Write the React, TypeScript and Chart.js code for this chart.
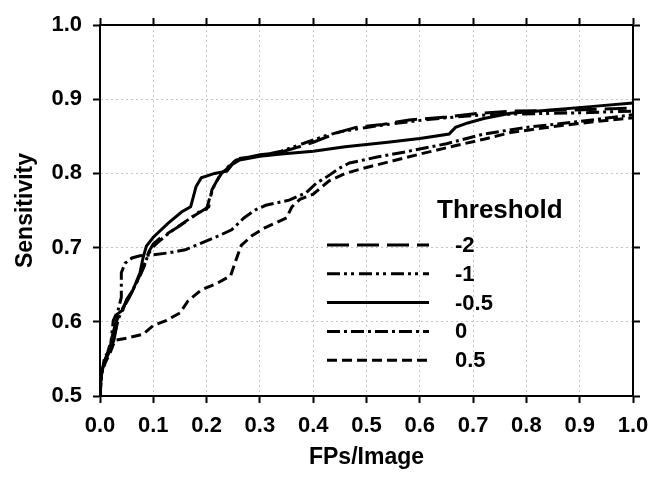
import React, { useEffect, useRef } from "react";
import { Chart, registerables } from "chart.js";

Chart.register(...registerables);

// Threshold labels
const thresholds = ["-2", "-1", "-0.5", "0", "0.5"];

// Threshold -2 (long dashes)
const fpsM2 = [0, 0.002, 0.008, 0.015, 0.022, 0.03, 0.04, 0.05, 0.06, 0.07, 0.078, 0.085, 0.092, 0.1, 0.115, 0.147, 0.179, 0.204, 0.21, 0.223, 0.236, 0.255, 0.28, 0.3, 0.336, 0.37, 0.4, 0.45, 0.48, 0.53, 0.58, 0.65, 0.71, 0.78, 0.85, 0.92, 1.0];
const sensM2 = [0.5, 0.525, 0.545, 0.56, 0.578, 0.6, 0.615, 0.628, 0.64, 0.655, 0.668, 0.68, 0.695, 0.705, 0.714, 0.728, 0.744, 0.755, 0.778, 0.795, 0.805, 0.818, 0.822, 0.825, 0.828, 0.835, 0.842, 0.856, 0.862, 0.866, 0.872, 0.876, 0.881, 0.884, 0.885, 0.886, 0.888];

// Threshold -1 (dash-dot-dot)
const fpsM1 = [0, 0.003, 0.01, 0.02, 0.028, 0.035, 0.045, 0.055, 0.065, 0.075, 0.083, 0.09, 0.098, 0.11, 0.13, 0.16, 0.19, 0.2, 0.205, 0.215, 0.228, 0.245, 0.26, 0.3, 0.34, 0.38, 0.42, 0.45, 0.5, 0.56, 0.62, 0.7, 0.78, 0.85, 0.92, 1.0];
const sensM1 = [0.5, 0.53, 0.55, 0.565, 0.585, 0.605, 0.62, 0.633, 0.648, 0.662, 0.675, 0.69, 0.7, 0.708, 0.72, 0.735, 0.75, 0.752, 0.765, 0.785, 0.8, 0.812, 0.82, 0.824, 0.83, 0.84, 0.85, 0.856, 0.862, 0.868, 0.873, 0.878, 0.88, 0.881, 0.882, 0.884];

// Threshold -0.5 (solid)
const fpsM05 = [0, 0.001, 0.004, 0.01, 0.018, 0.026, 0.03, 0.032, 0.043, 0.05, 0.062, 0.075, 0.081, 0.087, 0.1, 0.128, 0.153, 0.17, 0.175, 0.18, 0.19, 0.215, 0.238, 0.248, 0.262, 0.3, 0.34, 0.4, 0.46, 0.54, 0.6, 0.655, 0.667, 0.69, 0.72, 0.77, 0.84, 0.92, 1.0];
const sensM05 = [0.5, 0.52, 0.535, 0.548, 0.56, 0.575, 0.59, 0.61, 0.616, 0.63, 0.643, 0.666, 0.687, 0.702, 0.714, 0.733, 0.748, 0.755, 0.768, 0.782, 0.794, 0.8, 0.803, 0.812, 0.818, 0.823, 0.826, 0.83, 0.836, 0.842, 0.847, 0.853, 0.862, 0.868, 0.874, 0.881, 0.885, 0.89, 0.895];

// Threshold 0 (dash-dot)
const fps0 = [0, 0.002, 0.009, 0.019, 0.025, 0.034, 0.04, 0.04, 0.047, 0.06, 0.075, 0.095, 0.13, 0.16, 0.19, 0.22, 0.247, 0.27, 0.292, 0.311, 0.355, 0.387, 0.406, 0.425, 0.449, 0.468, 0.52, 0.58, 0.65, 0.72, 0.8, 0.9, 1.0];
const sens0 = [0.5, 0.526, 0.553, 0.562, 0.602, 0.616, 0.633, 0.666, 0.679, 0.686, 0.689, 0.69, 0.693, 0.697, 0.706, 0.715, 0.724, 0.74, 0.751, 0.757, 0.764, 0.774, 0.787, 0.795, 0.807, 0.814, 0.822, 0.83, 0.84, 0.853, 0.862, 0.87, 0.879];

// Threshold 0.5 (short dashes)
const fps05 = [0, 0.003, 0.01, 0.02, 0.028, 0.05, 0.08, 0.1, 0.125, 0.15, 0.165, 0.19, 0.22, 0.245, 0.255, 0.265, 0.285, 0.31, 0.35, 0.36, 0.375, 0.4, 0.43, 0.46, 0.5, 0.55, 0.6, 0.67, 0.72, 0.77, 0.85, 0.93, 1.0];
const sens05 = [0.5, 0.53, 0.545, 0.56, 0.575, 0.578, 0.583, 0.595, 0.602, 0.612, 0.628, 0.643, 0.652, 0.662, 0.683, 0.703, 0.716, 0.727, 0.74, 0.755, 0.765, 0.772, 0.79, 0.8, 0.808, 0.817, 0.826, 0.838, 0.846, 0.855, 0.863, 0.87, 0.875];

const seriesX = [fpsM2, fpsM1, fpsM05, fps0, fps05];
const seriesY = [sensM2, sensM1, sensM05, sens0, sens05];
const dashes: number[][] = [[22, 8], [13, 4, 3, 4, 3, 5], [], [13, 4, 3, 4], [10, 5]];

const FONT = "'Liberation Sans', Arial, Helvetica, sans-serif";

const legendPlugin = {
  id: "thresholdLegend",
  afterDatasetsDraw(chart: any) {
    const { ctx } = chart;
    ctx.save();
    ctx.fillStyle = "#000";
    ctx.textBaseline = "middle";
    ctx.textAlign = "left";
    ctx.font = `bold 26px ${FONT}`;
    ctx.fillText("Threshold", 437, 211);
    ctx.font = `bold 22px ${FONT}`;
    chart.data.datasets.forEach((ds: any, i: number) => {
      const y = 245 + i * 28.8;
      ctx.strokeStyle = "#000";
      ctx.lineWidth = 3;
      ctx.setLineDash(ds.borderDash || []);
      ctx.beginPath();
      ctx.moveTo(327, y);
      ctx.lineTo(429, y);
      ctx.stroke();
      ctx.setLineDash([]);
      ctx.fillText(ds.label, 455, y + 1);
    });
    ctx.restore();
  },
};

export default function App() {
  const ref = useRef<HTMLCanvasElement>(null);
  useEffect(() => {
    if (!ref.current) return;
    const tickFont = { family: FONT, size: 22, weight: "bold" as const };
    const titleFont = { family: FONT, size: 23, weight: "bold" as const };
    const gridOpts = { color: "#c4c4c4", lineWidth: 1, tickColor: "#000", tickLength: 7, tickWidth: 2 };
    const borderOpts = { display: true, color: "#000", width: 2, dash: [2, 3] };
    const fmt = (v: any) => Number(v).toFixed(1);
    const chart = new Chart(ref.current, {
      type: "line",
      data: {
        datasets: thresholds.map((t, i) => ({
          label: t,
          data: seriesX[i].map((x, j) => ({ x, y: seriesY[i][j] })),
          borderColor: "#000",
          backgroundColor: "#000",
          borderWidth: 3,
          borderDash: dashes[i],
          pointRadius: 0,
          tension: 0,
          fill: false,
          xAxisID: "x",
          yAxisID: "y",
        })),
      },
      options: {
        animation: false,
        responsive: false,
        layout: { padding: 0 },
        plugins: { legend: { display: false }, tooltip: { enabled: false } },
        scales: {
          x: {
            type: "linear",
            position: "bottom",
            min: 0,
            max: 1,
            ticks: { stepSize: 0.1, padding: 10, color: "#000", font: tickFont, callback: fmt, maxRotation: 0, autoSkip: false },
            grid: gridOpts,
            border: borderOpts,
            title: { display: true, text: "FPs/Image", color: "#000", font: titleFont, padding: { top: 0, bottom: 11 } },
            afterFit: (s: any) => { s.height = 86; },
          },
          y: {
            type: "linear",
            position: "left",
            min: 0.5,
            max: 1.0,
            ticks: { stepSize: 0.1, padding: 11, color: "#000", font: tickFont, callback: fmt },
            grid: gridOpts,
            border: borderOpts,
            title: { display: true, text: "Sensitivity", color: "#000", font: titleFont, padding: { top: 12, bottom: 0 } },
            afterFit: (s: any) => { s.width = 100; },
          },
          x2: {
            type: "linear",
            position: "top",
            min: 0,
            max: 1,
            ticks: { stepSize: 0.1, display: false },
            grid: { ...gridOpts, drawOnChartArea: false },
            border: { display: true, color: "#000", width: 2 },
            afterFit: (s: any) => { s.height = 25; },
          },
          y2: {
            type: "linear",
            position: "right",
            min: 0.5,
            max: 1.0,
            ticks: { stepSize: 0.1, display: false },
            grid: { ...gridOpts, drawOnChartArea: false },
            border: { display: true, color: "#000", width: 2 },
            afterFit: (s: any) => { s.width = 30; },
          },
        },
      },
      plugins: [legendPlugin],
    } as any);
    return () => chart.destroy();
  }, []);
  return (
    <div style={{ position: "absolute", left: 0, top: 0, width: 663, height: 482, background: "#fff" }}>
      <canvas ref={ref} width={663} height={482} style={{ display: "block" }} />
    </div>
  );
}
